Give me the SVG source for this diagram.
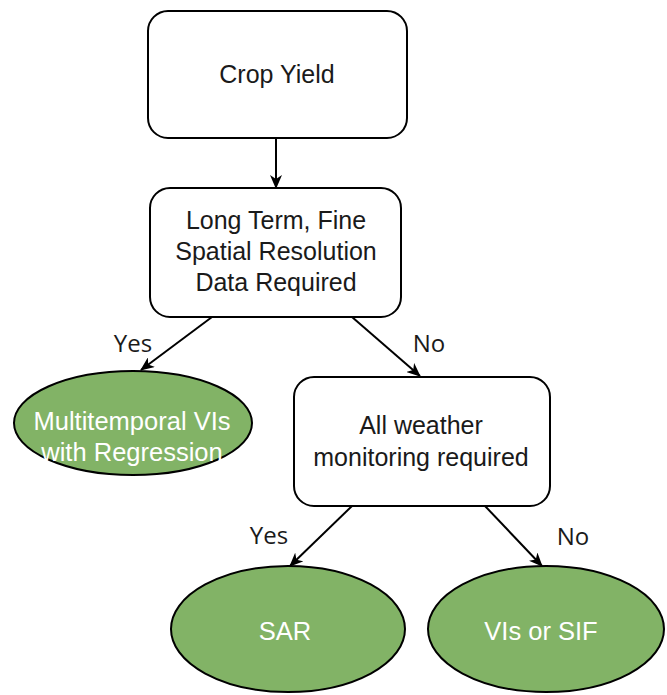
<svg xmlns="http://www.w3.org/2000/svg" width="667" height="695" viewBox="0 0 667 695">
  <style>
    .box { fill: #ffffff; stroke: #000000; stroke-width: 2; }
    .leaf { fill: #82b366; stroke: #000000; stroke-width: 2; }
    .edge { fill: none; stroke: #000000; stroke-width: 2; }
    .txt { font-family: "Liberation Sans", Arial, sans-serif; font-size: 25px; fill: #1a1a1a; text-anchor: middle; }
    .leaftxt { font-family: "Liberation Sans", Arial, sans-serif; font-size: 25.5px; fill: #ffffff; text-anchor: middle; }
    .lbl { font-family: "Open Sans", "Noto Sans", sans-serif; font-size: 24px; fill: #1a1a1a; text-anchor: middle; }
  </style>
  <defs>
    <marker id="arrow" viewBox="0 0 14 12" refX="13" refY="6" markerWidth="14" markerHeight="12" markerUnits="userSpaceOnUse" orient="auto">
      <path d="M0,0 L14,6 L0,12 L4,6 Z" fill="#000000"/>
    </marker>
  </defs>
  <rect width="667" height="695" fill="#ffffff"/>

  <!-- connectors -->
  <g id="connectors">
    <line class="edge" x1="276" y1="138" x2="276" y2="188" marker-end="url(#arrow)"/>
    <line class="edge" x1="212" y1="317" x2="141" y2="370" marker-end="url(#arrow)"/>
    <line class="edge" x1="352" y1="317" x2="420" y2="376" marker-end="url(#arrow)"/>
    <line class="edge" x1="352" y1="506" x2="290" y2="566" marker-end="url(#arrow)"/>
    <line class="edge" x1="485" y1="506" x2="542" y2="566" marker-end="url(#arrow)"/>
    <text class="lbl" x="133" y="352">Yes</text>
    <text class="lbl" x="429" y="352">No</text>
    <text class="lbl" x="269" y="544">Yes</text>
    <text class="lbl" x="573" y="545">No</text>
  </g>

  <g id="crop-yield">
    <rect class="box" x="148" y="11" width="259" height="127" rx="20"/>
    <text class="txt" x="277" y="83">Crop Yield</text>
  </g>

  <g id="long-term">
    <rect class="box" x="150" y="188" width="251" height="129" rx="20"/>
    <text class="txt" x="276" y="229">Long Term, Fine</text>
    <text class="txt" x="276" y="260">Spatial Resolution</text>
    <text class="txt" x="276" y="291">Data Required</text>
  </g>

  <g id="multitemporal">
    <ellipse class="leaf" cx="133" cy="423" rx="119" ry="52"/>
    <text class="leaftxt" x="132" y="430">Multitemporal VIs</text>
    <text class="leaftxt" x="132" y="461">with Regression</text>
  </g>

  <g id="all-weather">
    <rect class="box" x="294" y="377" width="256" height="129" rx="20"/>
    <text class="txt" x="421" y="434">All weather</text>
    <text class="txt" x="421" y="466">monitoring required</text>
  </g>

  <g id="sar">
    <ellipse class="leaf" cx="288" cy="629" rx="117" ry="63"/>
    <text class="leaftxt" x="285" y="640">SAR</text>
  </g>

  <g id="vis-sif">
    <ellipse class="leaf" cx="546" cy="629" rx="118" ry="63"/>
    <text class="leaftxt" x="541" y="640">VIs or SIF</text>
  </g>
</svg>
